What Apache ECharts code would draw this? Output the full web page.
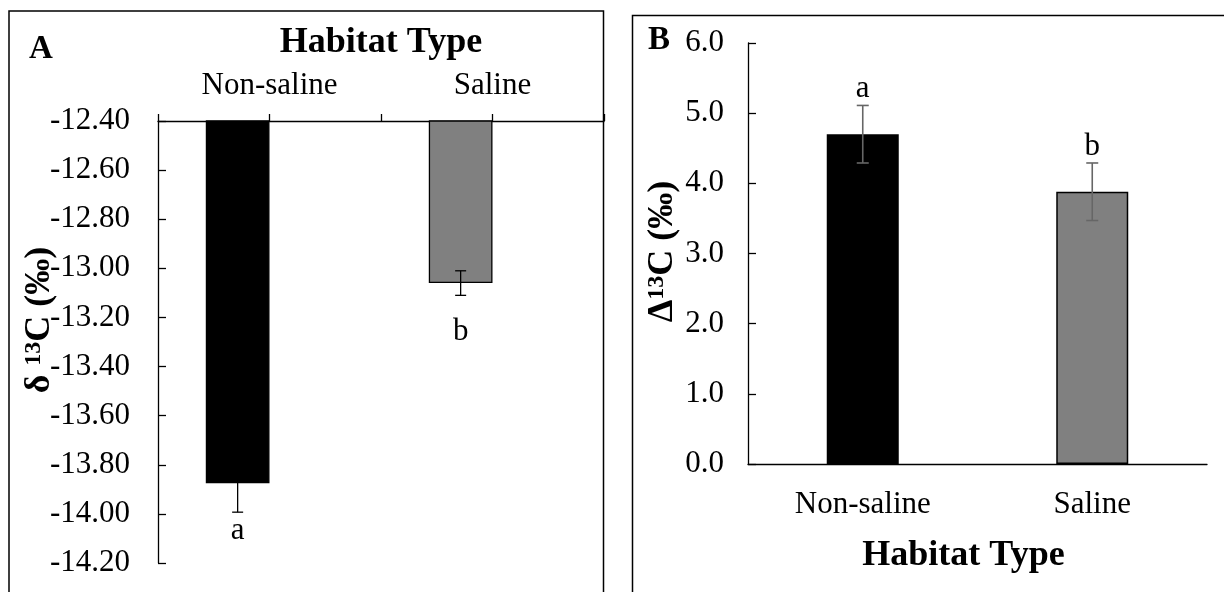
<!DOCTYPE html>
<html><head><meta charset="utf-8">
<script src="https://cdn.jsdelivr.net/npm/echarts@6/dist/echarts.min.js"></script>
<style>html,body{margin:0;padding:0;background:#fff}#c{width:1224px;height:592px}</style>
</head><body><div id="c"></div>
<script>
const categories = ['Non-saline', 'Saline'];
const panelAValues = [-13.875, -13.06];
const panelAErrors = [0.118, 0.05];
const panelALetters = ['a', 'b'];
const panelBValues = [4.70, 3.88];
const panelBErrors = [0.41, 0.41];
const panelBLetters = ['a', 'b'];
const barColors = ['#000000', '#808080'];
const panelAY = { min: -14.2, max: -12.4, step: 0.2 };
const panelBY = { min: 0, max: 6, step: 1 };

const FONT = "'Liberation Serif', 'Times New Roman', serif";
const chart = echarts.init(document.getElementById('c'), null, { renderer: 'canvas' });

const axisLineStyle = { color: '#000', width: 1.3 };
const tickLabel = { color: '#000', fontSize: 31, fontFamily: FONT };
const nameBold = { color: '#000', fontSize: 36, fontWeight: 'bold', fontFamily: FONT };

function yRich() {
  return {
    m: { color: '#000', fontSize: 36, fontWeight: 'bold', fontFamily: FONT },
    s: { color: '#000', fontSize: 24, fontWeight: 'bold', fontFamily: FONT, verticalAlign: 'top' }
  };
}

function errorRenderer(values, errors, letters, panel) {
  return function (params, api) {
    const i = api.value(0), v = api.value(1), e = api.value(2);
    const band = api.size([1, 0])[0];
    const dx = panel === 'A' ? -band / 7 : 0;
    const hi = api.coord([i, v + e]);
    const lo = api.coord([i, v - e]);
    const x = hi[0] + dx;
    const cap = panel === 'A' ? 5.5 : 6;
    const color = panel === 'A' ? '#000' : '#666';
    const lw = panel === 'A' ? 1.3 : 1.6;
    const st = { stroke: color, lineWidth: lw };
    let labelY;
    if (panel === 'A') {
      const offs = [19, 37];
      labelY = lo[1] + offs[params.dataIndex];
    } else {
      labelY = hi[1] - 16.5;
    }
    return {
      type: 'group',
      children: [
        { type: 'line', shape: { x1: x, y1: hi[1], x2: x, y2: lo[1] }, style: st },
        { type: 'line', shape: { x1: x - cap, y1: hi[1], x2: x + cap, y2: hi[1] }, style: st },
        { type: 'line', shape: { x1: x - cap, y1: lo[1], x2: x + cap, y2: lo[1] }, style: st },
        { type: 'text', x: x, y: labelY, style: { text: letters[params.dataIndex], fill: '#000', font: '31px ' + FONT, align: 'center', verticalAlign: 'middle' } }
      ]
    };
  };
}

const option = {
  animation: false,
  backgroundColor: '#fff',
  grid: [
    { left: 158, top: 121, width: 446, height: 442 },
    { left: 748, top: 43, width: 459, height: 421 }
  ],
  xAxis: [
    {
      gridIndex: 0, type: 'category', data: categories, position: 'top',
      axisLine: { onZero: false, lineStyle: axisLineStyle },
      axisTick: { show: true, inside: false, length: 7, lineStyle: axisLineStyle },
      axisLabel: Object.assign({ margin: 20 }, tickLabel),
      name: 'Habitat Type', nameLocation: 'middle', nameGap: 60, nameTextStyle: nameBold
    },
    {
      gridIndex: 0, type: 'category', data: categories, position: 'top',
      axisLine: { show: false },
      axisTick: { show: true, alignWithLabel: true, inside: false, length: 7, lineStyle: axisLineStyle },
      axisLabel: { show: false }
    },
    {
      gridIndex: 1, type: 'category', data: categories, position: 'bottom',
      axisLine: { onZero: false, lineStyle: axisLineStyle },
      axisTick: { show: false },
      axisLabel: Object.assign({ margin: 25 }, tickLabel),
      name: 'Habitat Type', nameLocation: 'middle', nameGap: 74,
      nameTextStyle: Object.assign({ padding: [0, 28, 0, 0] }, nameBold)
    }
  ],
  yAxis: [
    {
      gridIndex: 0, type: 'value', min: panelAY.min, max: panelAY.max, interval: panelAY.step,
      axisLine: { show: true, onZero: false, lineStyle: axisLineStyle },
      axisTick: { show: true, inside: true, length: 8, lineStyle: axisLineStyle },
      splitLine: { show: false },
      axisLabel: Object.assign({ margin: 28, formatter: v => v.toFixed(2) }, tickLabel),
      name: '{m|δ }{s|13}{m|C (‰)}', nameLocation: 'middle', nameRotate: 90, nameGap: 100,
      nameMoveOverlap: false,
      nameTextStyle: { rich: yRich(), padding: [0, 0, 0, 44] }
    },
    {
      gridIndex: 1, type: 'value', min: panelBY.min, max: panelBY.max, interval: panelBY.step,
      axisLine: { show: true, onZero: false, lineStyle: axisLineStyle },
      axisTick: { show: true, inside: true, length: 8, lineStyle: axisLineStyle },
      splitLine: { show: false },
      axisLabel: Object.assign({ margin: 24, formatter: v => v.toFixed(1) }, tickLabel),
      name: '{m|Δ}{s|13}{m|C (‰)}', nameLocation: 'middle', nameRotate: 90, nameGap: 67,
      nameTextStyle: { rich: yRich(), padding: [0, 0, 0, 4] }
    }
  ],
  series: [
    {
      type: 'bar', xAxisIndex: 0, yAxisIndex: 0, barGap: '0%', barCategoryGap: '42.857%',
      data: panelAValues.map((v, i) => ({ value: v, itemStyle: { color: barColors[i] } })),
      itemStyle: { borderColor: '#000', borderWidth: 1.3 }, clip: true
    },
    {
      type: 'bar', xAxisIndex: 0, yAxisIndex: 0, barGap: '0%', barCategoryGap: '42.857%',
      data: categories.map(() => '-')
    },
    {
      type: 'custom', xAxisIndex: 0, yAxisIndex: 0,
      data: panelAValues.map((v, i) => [i, v, panelAErrors[i]]),
      encode: { x: 0, y: 1 },
      renderItem: errorRenderer(panelAValues, panelAErrors, panelALetters, 'A'), z: 5
    },
    {
      type: 'bar', xAxisIndex: 2, yAxisIndex: 1, barWidth: 72,
      data: panelBValues.map((v, i) => ({ value: v, itemStyle: { color: barColors[i] } })),
      itemStyle: { borderColor: '#000', borderWidth: 1.5 }
    },
    {
      type: 'custom', xAxisIndex: 2, yAxisIndex: 1,
      data: panelBValues.map((v, i) => [i, v, panelBErrors[i]]),
      encode: { x: 0, y: 1 },
      renderItem: errorRenderer(panelBValues, panelBErrors, panelBLetters, 'B'), z: 5
    }
  ],
  graphic: [
    { type: 'rect', shape: { x: 9, y: 11, width: 594.5, height: 600 }, style: { fill: 'none', stroke: '#000', lineWidth: 1.5 }, z: 0 },
    { type: 'rect', shape: { x: 632.5, y: 15.5, width: 620, height: 600 }, style: { fill: 'none', stroke: '#000', lineWidth: 1.5 }, z: 0 },
    { type: 'text', x: 29, y: 49, style: { text: 'A', fill: '#000', font: 'bold 33px ' + FONT, verticalAlign: 'middle' } },
    { type: 'text', x: 648, y: 40, style: { text: 'B', fill: '#000', font: 'bold 33px ' + FONT, verticalAlign: 'middle' } }
  ]
};
chart.setOption(option);
</script></body></html>
